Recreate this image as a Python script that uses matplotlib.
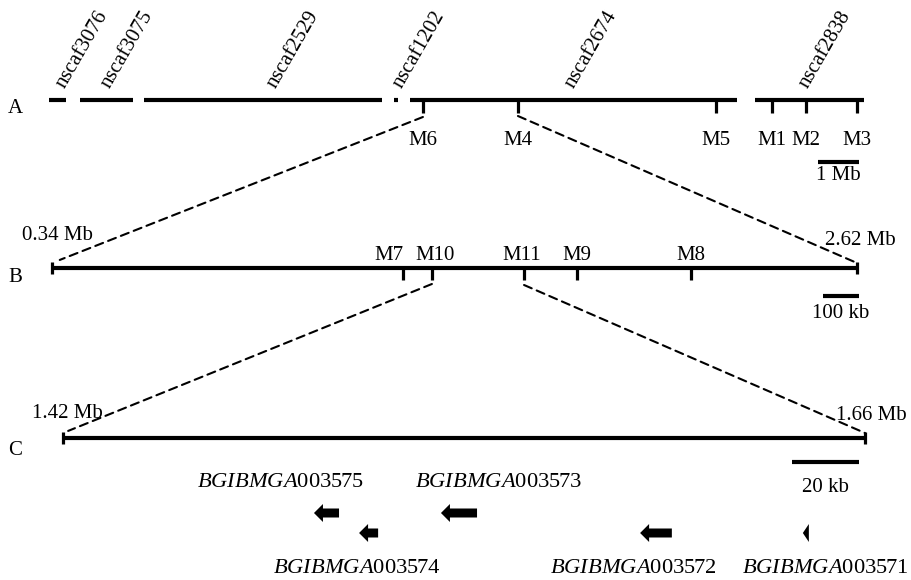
import matplotlib
matplotlib.use('Agg')
import matplotlib.pyplot as plt
from matplotlib.patches import ConnectionPatch, FancyArrow

plt.rcParams['font.family'] = ['Liberation Serif', 'DejaVu Serif']
plt.rcParams['mathtext.fontset'] = 'custom'
plt.rcParams['mathtext.rm'] = 'Liberation Serif'
plt.rcParams['mathtext.it'] = 'Liberation Serif:italic'

# ---------------- data ----------------
# Panel A: scaffolds along the chromosome (Mb)
scaffold_names = ['nscaf3076', 'nscaf3075', 'nscaf2529', 'nscaf1202', 'nscaf2674', 'nscaf2838']
scaffold_start = [0.00, 0.75, 2.29, 8.31, 8.70, 17.01]
scaffold_end = [0.41, 2.02, 8.02, 8.41, 16.58, 19.64]
markers_A = ['M6', 'M4', 'M5', 'M1', 'M2', 'M3']
markers_A_pos = [9.01, 11.30, 16.07, 17.42, 18.24, 19.47]
scale_A = 1.0          # Mb
scale_A_label = '1 Mb'

# Panel B: 0.34-2.62 Mb of nscaf2674
region_B = [0.34, 2.62]
region_B_labels = ['0.34 Mb', '2.62 Mb']
markers_B = ['M7', 'M10', 'M11', 'M9', 'M8']
markers_B_pos = [1.334, 1.416, 1.677, 1.827, 2.150]
scale_B = 0.1          # 100 kb
scale_B_label = '100 kb'

# Panel C: 1.42-1.66 Mb
region_C = [1.42, 1.66]
region_C_labels = ['1.42 Mb', '1.66 Mb']
genes = ['003575', '003574', '003573', '003572', '003571']
gene_left = [1.4951, 1.5086, 1.5331, 1.5927, 1.6414]
gene_right = [1.5026, 1.5143, 1.5439, 1.6022, 1.6432]
gene_row = [0, 1, 0, 1, 1]
gene_label_x = [1.4852, 1.5080, 1.5505, 1.5906, 1.6480]
scale_C = 0.02         # 20 kb
scale_C_label = '20 kb'

# ---------------- layout ----------------
W, H = 911, 580
fig = plt.figure(figsize=(W / 100, H / 100), dpi=100)
FS = 15
GFS = 16.2


def panel_axes(x0_data, x0_px, px_per_unit):
    ax = fig.add_axes([0, 0, 1, 1])
    ax.set_xlim(x0_data - x0_px / px_per_unit, x0_data + (W - x0_px) / px_per_unit)
    ax.set_ylim(H, 0)
    ax.axis('off')
    ax.patch.set_visible(False)
    return ax


LW = 3.0
TLW = 2.3

# ----- Panel A -----
pxA = 41.5
axA = panel_axes(0.0, 49, pxA)
yA = 100
for s, e in zip(scaffold_start, scaffold_end):
    axA.plot([s, e], [yA, yA], color='black', lw=LW, solid_capstyle='butt')
label_dx_px = [7, 3, 13, 6, 0, -2]
for name, s, e, dx in zip(scaffold_names, scaffold_start, scaffold_end, label_dx_px):
    axA.text((s + e) / 2 + dx / pxA, 89, name, rotation=60, rotation_mode='anchor',
             ha='left', va='baseline', fontsize=FS)
axA.vlines(markers_A_pos, yA, yA + 13, color='black', lw=TLW)
for m, p in zip(markers_A, markers_A_pos):
    axA.text(p, 145, m, ha='center', va='baseline', fontsize=FS)
barA_right = 19.52
axA.plot([barA_right - scale_A, barA_right], [162, 162], color='black', lw=LW, solid_capstyle='butt')
axA.text(barA_right - scale_A / 2, 180, scale_A_label, ha='center', va='baseline', fontsize=FS)

# ----- Panel B -----
pxB = (857 - 52) / (region_B[1] - region_B[0])
axB = panel_axes(region_B[0], 52, pxB)
yB = 268
axB.plot(region_B, [yB, yB], color='black', lw=LW, solid_capstyle='butt')
axB.vlines(region_B, yB - 6, yB + 6, color='black', lw=TLW)
axB.vlines(markers_B_pos, yB, yB + 12, color='black', lw=TLW)
offB = [-0.04, 0.008, -0.008, 0.0, 0.0]
for m, p, o in zip(markers_B, markers_B_pos, offB):
    axB.text(p + o, 260, m, ha='center', va='baseline', fontsize=FS)
axB.text(region_B[0] + 0.015, 240, region_B_labels[0], ha='center', va='baseline', fontsize=FS)
axB.text(region_B[1] + 0.01, 245, region_B_labels[1], ha='center', va='baseline', fontsize=FS)
barB_right = region_B[1] + 0.005
axB.plot([barB_right - scale_B, barB_right], [296, 296], color='black', lw=LW, solid_capstyle='butt')
axB.text(barB_right - scale_B / 2, 318, scale_B_label, ha='center', va='baseline', fontsize=FS)

# ----- Panel C -----
pxC = (865 - 63) / (region_C[1] - region_C[0])
axC = panel_axes(region_C[0], 63, pxC)
yC = 438
axC.plot(region_C, [yC, yC], color='black', lw=LW, solid_capstyle='butt')
axC.vlines(region_C, yC - 6, yC + 6, color='black', lw=TLW)
axC.text(region_C[0] + 0.0012, 418, region_C_labels[0], ha='center', va='baseline', fontsize=FS)
axC.text(region_C[1] + 0.0018, 420, region_C_labels[1], ha='center', va='baseline', fontsize=FS)
barC_right = region_C[1] - 0.0018
axC.plot([barC_right - scale_C, barC_right], [462, 462], color='black', lw=LW, solid_capstyle='butt')
axC.text(barC_right - scale_C / 2, 492, scale_C_label, ha='center', va='baseline', fontsize=FS)

row_y = [513, 533]
label_y = [487, 573]
head_len = 9 / pxC
for g, l, r, row, lx in zip(genes, gene_left, gene_right, gene_row, gene_label_x):
    length = r - l
    hl = min(head_len, length)
    arr = FancyArrow(r, row_y[row], -length, 0, width=9, head_width=18,
                     head_length=hl, length_includes_head=True,
                     color='black', lw=0)
    axC.add_patch(arr)
    axC.text(lx, label_y[row], r'$\mathit{BGIBMGA}$' + g, ha='center',
             va='baseline', fontsize=GFS)

# ----- panel letters -----
for letter, yb in zip(['A', 'B', 'C'], [113, 282, 455]):
    fig.text(8 / W, 1 - yb / H, letter, ha='left', va='baseline', fontsize=FS)

# ----- dashed zoom connectors -----
dash = dict(color='black', lw=1.5, linestyle=(0, (4.0, 2.6)))
connections = [
    ((markers_A_pos[0], 117), axA, (region_B[0], 263), axB, 6),
    ((markers_A_pos[1], 116), axA, (region_B[1], 263), axB, 0),
    ((markers_B_pos[1], 284), axB, (region_C[0], 433), axC, 4),
    ((markers_B_pos[2], 285), axB, (region_C[1], 433), axC, 0),
]
for pa, aa, pb, ab, shr in connections:
    con = ConnectionPatch(pa, pb, coordsA='data', coordsB='data', axesA=aa, axesB=ab,
                          shrinkA=0, shrinkB=shr, **dash)
    fig.add_artist(con)

fig.savefig('out.png', dpi=100)
